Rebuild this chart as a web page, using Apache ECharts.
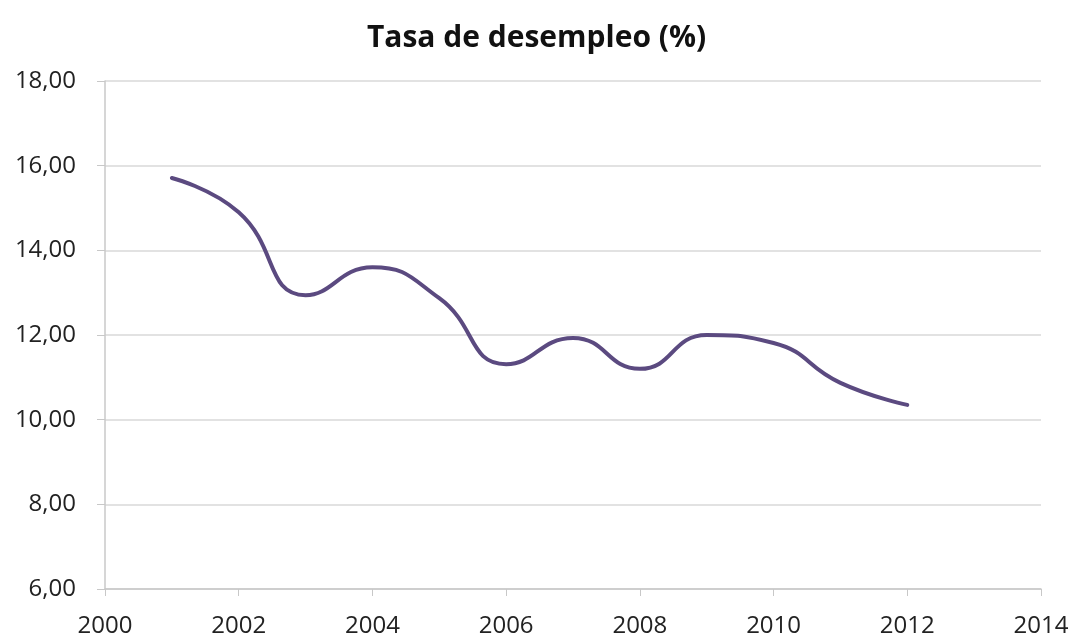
<!DOCTYPE html>
<html>
<head>
<meta charset="utf-8">
<script src="https://cdn.jsdelivr.net/npm/echarts@6/dist/echarts.min.js"></script>
<style>
    html, body {margin: 0; padding: 0; background: #fff;}
    #line_chart {width: 1073px; height: 639px;}
</style>
</head>
<body>
<div id="line_chart"></div>
<script>
//datos
var years = [2001, 2002, 2003, 2004, 2005, 2006, 2007, 2008, 2009, 2010, 2011, 2012];
var rates = [15.71, 14.9, 12.94, 13.6, 12.87, 11.31, 11.93, 11.2, 12.0, 11.81, 10.87, 10.35];
var titleText = 'Tasa de desempleo (%)';

var lineCharts = function () {
    var points = [];
    years.forEach(function (y, i) {
        points.push([y, rates[i]]);
    });
    var chart = echarts.init(document.getElementById('line_chart'));
    chart.setOption({
        animation: false,
        title: {
            text: titleText,
            left: 'center',
            top: 18,
            textStyle: {
                fontFamily: 'Open Sans',
                fontWeight: 'bold',
                fontSize: 30,
                color: '#111'
            }
        },
        grid: {left: 105, right: 32, top: 81, bottom: 50},
        xAxis: {
            type: 'value',
            min: 2000,
            max: 2014,
            interval: 2,
            axisLine: {lineStyle: {color: '#c8c8c8', width: 1.5}},
            axisTick: {show: true, length: 7, lineStyle: {color: '#c8c8c8'}},
            splitLine: {show: false},
            axisLabel: {
                margin: 25,
                fontFamily: 'Open Sans',
                fontSize: 24,
                color: '#222',
                formatter: function (v) {
                    return String(v);
                }
            }
        },
        yAxis: {
            type: 'value',
            min: 6,
            max: 18,
            interval: 2,
            axisLine: {show: true, lineStyle: {color: '#c8c8c8', width: 1.5}},
            axisTick: {show: true, length: 8, lineStyle: {color: '#c8c8c8'}},
            splitLine: {lineStyle: {color: '#d9d9d9', width: 1.5}},
            axisLabel: {
                margin: 29,
                fontFamily: 'Open Sans',
                fontSize: 24,
                color: '#222',
                formatter: function (v) {
                    return v.toFixed(2).replace('.', ',');
                }
            }
        },
        series: [
            {
                type: 'line',
                data: points,
                smooth: 0.5,
                showSymbol: false,
                lineStyle: {color: '#5b4a80', width: 4, cap: 'round'}
            }
        ]
    });
};
lineCharts();
</script>
</body>
</html>
